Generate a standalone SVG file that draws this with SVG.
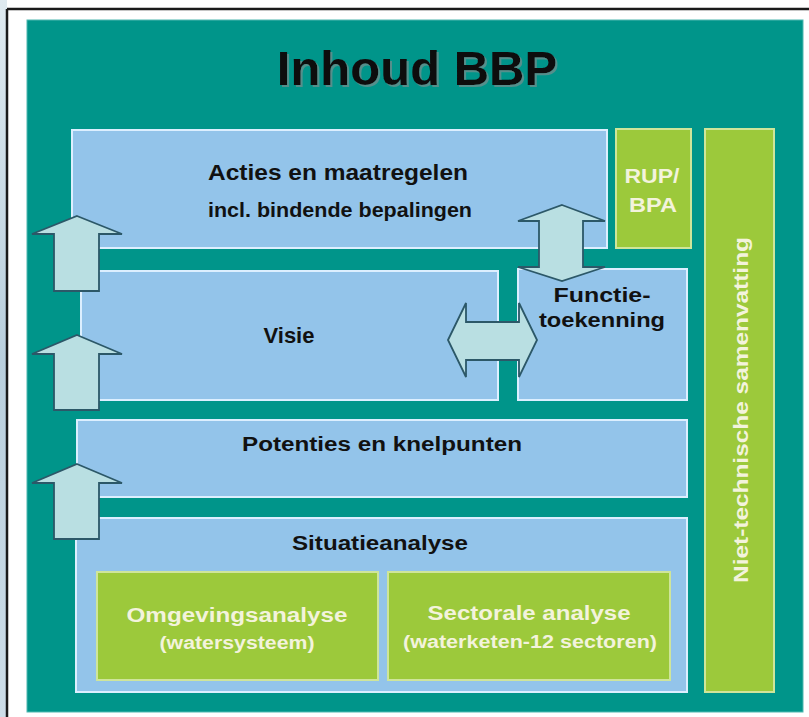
<svg xmlns="http://www.w3.org/2000/svg" width="809" height="717" viewBox="0 0 809 717">
  <defs>
    <linearGradient id="water" x1="0" y1="0" x2="0" y2="1">
      <stop offset="0" stop-color="#dfeaf0"/>
      <stop offset="0.5" stop-color="#b9cfdd"/>
      <stop offset="1" stop-color="#cddde8"/>
    </linearGradient>
    <filter id="shadow" x="-5%" y="-20%" width="115%" height="150%">
      <feDropShadow dx="2" dy="2" stdDeviation="0.6" flood-color="#5f8f8b" flood-opacity="0.9"/>
    </filter>
  </defs>
  <style>
    .blue { fill: #93c4ea; stroke: #dcefff; stroke-width: 2; }
    .green { fill: #9cc93b; stroke: #cfe59a; stroke-width: 2; }
    .arrow { fill: #b9dfe2; stroke: #2c5868; stroke-width: 1.8; stroke-linejoin: miter; }
    .dark { font-family: "Liberation Sans", Arial, sans-serif; font-weight: bold; fill: #111111; text-anchor: middle; }
    .light { font-family: "Liberation Sans", Arial, sans-serif; font-weight: bold; fill: #f3f3dc; text-anchor: middle; }
  </style>

  <!-- background -->
  <rect x="0" y="0" width="809" height="717" fill="#ffffff"/>
  <rect x="0" y="0" width="7" height="717" fill="url(#water)"/>
  <line x1="7" y1="9" x2="809" y2="9" stroke="#1a1a1a" stroke-width="2.5"/>
  <line x1="7" y1="9" x2="7" y2="717" stroke="#1a1a1a" stroke-width="2.5"/>
  <rect x="27" y="20" width="776" height="692" fill="#00958a" stroke="#4fb8b0" stroke-width="1"/>

  <g id="title">
    <text x="417" y="85" class="dark" font-size="49" filter="url(#shadow)">Inhoud BBP</text>
  </g>

  <g id="acties">
    <rect x="72" y="130" width="535" height="118" class="blue"/>
    <text x="338" y="180" class="dark" font-size="22" textLength="260" lengthAdjust="spacingAndGlyphs">Acties en maatregelen</text>
    <text x="340" y="217" class="dark" font-size="21" textLength="264" lengthAdjust="spacingAndGlyphs">incl. bindende bepalingen</text>
  </g>

  <g id="rup-bpa">
    <rect x="616" y="129" width="75" height="119" class="green"/>
    <text x="652" y="183" class="light" font-size="21" textLength="55" lengthAdjust="spacingAndGlyphs">RUP/</text>
    <text x="653" y="212" class="light" font-size="21" textLength="48" lengthAdjust="spacingAndGlyphs">BPA</text>
  </g>

  <g id="samenvatting">
    <rect x="705" y="129" width="69" height="563" class="green"/>
    <text transform="translate(748 410) rotate(-90)" x="0" y="0" class="light" font-size="21" textLength="346" lengthAdjust="spacingAndGlyphs">Niet-technische samenvatting</text>
  </g>

  <g id="visie">
    <rect x="81" y="271" width="417" height="129" class="blue"/>
    <text x="289" y="343" class="dark" font-size="22">Visie</text>
  </g>

  <g id="functietoekenning">
    <rect x="518" y="269" width="169" height="131" class="blue"/>
    <text x="602" y="302" class="dark" font-size="21" textLength="97" lengthAdjust="spacingAndGlyphs">Functie-</text>
    <text x="602" y="327" class="dark" font-size="21" textLength="126" lengthAdjust="spacingAndGlyphs">toekenning</text>
  </g>

  <g id="potenties">
    <rect x="77" y="420" width="610" height="77" class="blue"/>
    <text x="382" y="451" class="dark" font-size="20" textLength="280" lengthAdjust="spacingAndGlyphs">Potenties en knelpunten</text>
  </g>

  <g id="situatieanalyse">
    <rect x="76" y="518" width="611" height="174" class="blue"/>
    <text x="380" y="550" class="dark" font-size="20" textLength="176" lengthAdjust="spacingAndGlyphs">Situatieanalyse</text>
  </g>

  <g id="omgevingsanalyse">
    <rect x="97" y="572" width="281" height="108" class="green"/>
    <text x="237" y="622" class="light" font-size="20" textLength="221" lengthAdjust="spacingAndGlyphs">Omgevingsanalyse</text>
    <text x="237" y="649" class="light" font-size="18" textLength="155" lengthAdjust="spacingAndGlyphs">(watersysteem)</text>
  </g>

  <g id="sectorale-analyse">
    <rect x="388" y="572" width="282" height="108" class="green"/>
    <text x="529" y="620" class="light" font-size="20" textLength="203" lengthAdjust="spacingAndGlyphs">Sectorale analyse</text>
    <text x="530" y="648" class="light" font-size="18" textLength="254" lengthAdjust="spacingAndGlyphs">(waterketen-12 sectoren)</text>
  </g>

  <g id="connectors">
    <polygon class="arrow" points="77,216 122,234 99,234 99,291 54,291 54,234 32,234"/>
    <polygon class="arrow" points="77,335 122,354 99,354 99,410 54,410 54,354 32,354"/>
    <polygon class="arrow" points="77,464 122,483 99,483 99,539 54,539 54,483 32,483"/>
    <polygon class="arrow" points="562,205 605,221 583,221 583,267 605,267 562,281 518,267 539,267 539,221 518,221"/>
    <polygon class="arrow" points="448,340 466,303 466,322 519,322 519,303 537,340 519,377 519,360 466,360 466,377"/>
  </g>
</svg>
